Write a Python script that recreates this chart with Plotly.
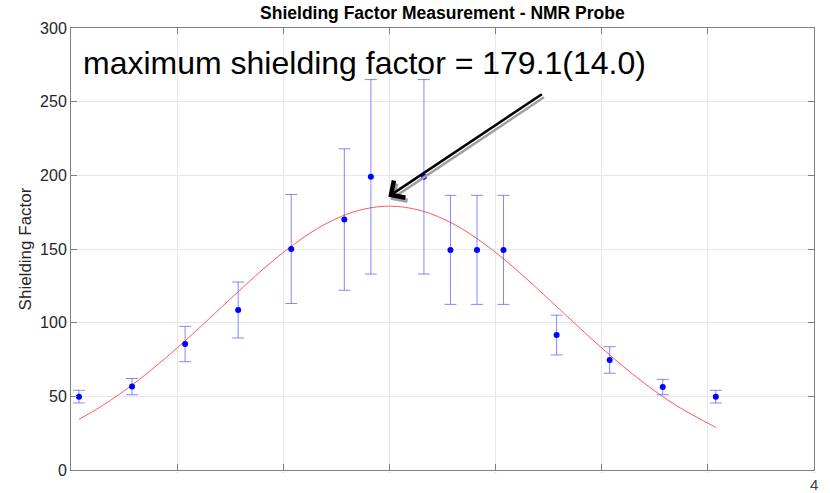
import plotly.graph_objects as go

# measured points
pos = [0.75, 5.75, 10.75, 15.75, 20.75, 25.75, 28.25, 33.25, 35.75, 38.25, 40.75, 45.75, 50.75, 55.75, 60.75]
shield = [49.8, 56.6, 85.5, 108.6, 150, 170, 199, 199, 149.4, 149.4, 149.4, 91.6, 74.7, 56.3, 49.8]
err = [4.3, 5.5, 12, 19, 37, 48, 66, 66, 37, 37, 37, 13.5, 9, 5.2, 4.3]

# fitted curve
fit_x = [0.75, 3, 6, 9, 12, 15, 18, 21, 24, 27, 30, 33, 36, 39, 42, 45, 48, 51, 54, 57, 60.75]
fit_y = [34.4, 43.9, 59.0, 76.5, 95.9, 116.0, 135.7, 153.2, 167.1, 176.0, 179.1,
         176.0, 167.1, 153.2, 135.7, 116.0, 95.9, 76.5, 59.0, 43.9, 28.9]

y_ticks = [0, 50, 100, 150, 200, 250, 300]
x_ticks = [0, 10, 20, 30, 40, 50, 60, 70]

FONT = "Liberation Sans, Arial, sans-serif"

fig = go.Figure()
fig.add_trace(go.Scatter(
    x=fit_x, y=fit_y, mode="lines", line=dict(color="rgba(255,60,60,0.85)", width=1, shape="spline"),
    hoverinfo="skip", showlegend=False))
fig.add_trace(go.Scatter(
    x=pos, y=shield, mode="markers",
    marker=dict(color="#0000ff", size=6),
    error_y=dict(type="data", array=err, visible=True, color="rgba(70,70,255,0.65)", thickness=1, width=6),
    showlegend=False))

# arrow shadow
fig.add_annotation(x=30.1, y=183.5, ax=44.7, ay=253.7, xref="x", yref="y", axref="x", ayref="y",
                   text="", showarrow=True, arrowhead=4, arrowsize=1.6, arrowwidth=2.5,
                   arrowcolor="#a0a0a0")
fig.add_annotation(x=29.9, y=185.5, ax=44.5, ay=255.7, xref="x", yref="y", axref="x", ayref="y",
                   text="", showarrow=True, arrowhead=4, arrowsize=1.6, arrowwidth=2.5,
                   arrowcolor="#000000")

fig.add_annotation(x=0.9, y=276.5, xref="x", yref="y", text="maximum shielding factor = 179.1(14.0)",
                   showarrow=False, xanchor="left", yanchor="middle",
                   font=dict(family=FONT, size=32, color="#000000"))

fig.add_annotation(x=1.0, y=0, xref="paper", yref="paper", text="4", showarrow=False,
                   xanchor="center", yanchor="top", yshift=-4, xshift=0,
                   font=dict(family=FONT, size=15, color="#404040"))

fig.update_layout(
    width=830, height=493,
    margin=dict(l=71, r=16, t=28, b=23),
    plot_bgcolor="white", paper_bgcolor="white",
    title=dict(text="<b>Shielding Factor Measurement - NMR Probe</b>", x=0.533, xanchor="center",
               y=0.973, yanchor="middle", font=dict(family=FONT, size=17.5, color="#000000")),
    font=dict(family=FONT),
)
fig.update_xaxes(range=[0, 70], tickvals=x_ticks, showgrid=True, gridcolor="#e8e8e8", gridwidth=1,
                 showline=True, linecolor="#808080", linewidth=1, mirror="ticks",
                 ticks="inside", ticklen=6, tickcolor="#808080",
                 tickfont=dict(size=2, color="#c0c0c0"), zeroline=False)
fig.update_yaxes(range=[0, 300], tickvals=y_ticks, showgrid=True, gridcolor="#e8e8e8", gridwidth=1,
                 showline=True, linecolor="#808080", linewidth=1, mirror="ticks",
                 ticks="inside", ticklen=6, tickcolor="#808080",
                 tickfont=dict(size=16, color="#262626"), zeroline=False,
                 title=dict(text="Shielding Factor", font=dict(size=17, color="#262626"), standoff=4))

fig.write_html("out.html")
